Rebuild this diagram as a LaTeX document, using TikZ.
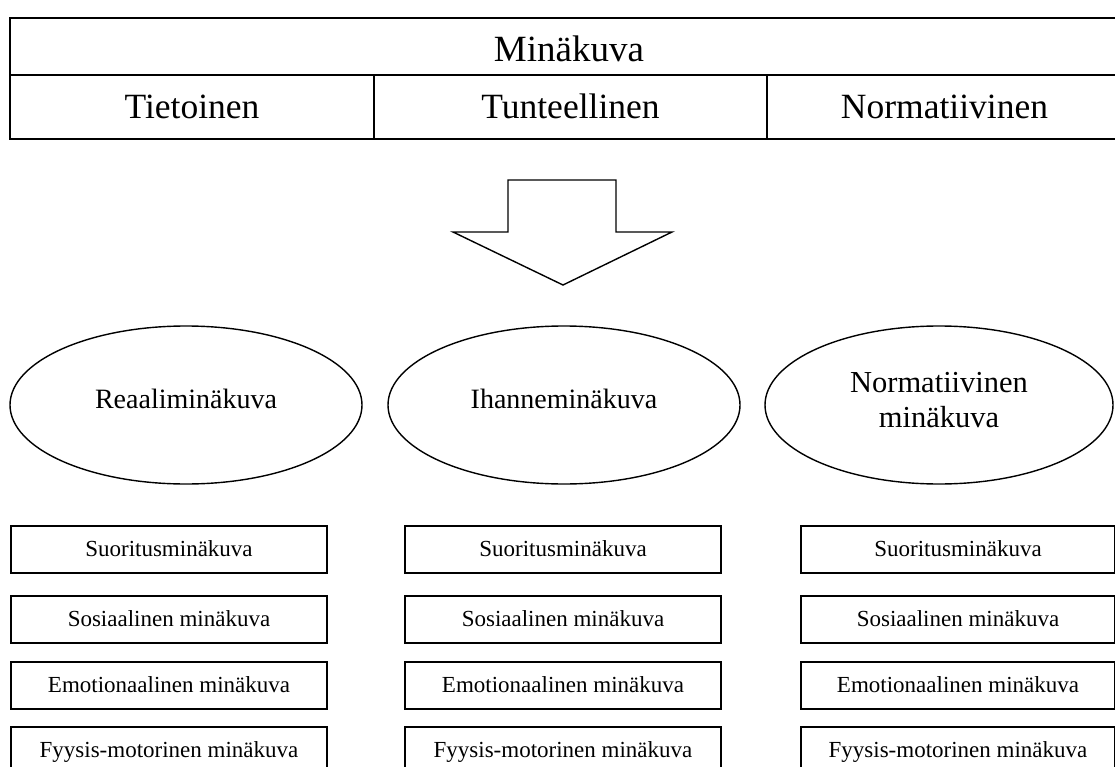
\documentclass[tikz,border=0pt]{standalone}
\usepackage{fontspec}
\setmainfont{Liberation Serif}
\usetikzlibrary{shapes.geometric}
\begin{document}
\begin{tikzpicture}[x=1pt,y=-1pt,
  cell/.style={draw, line width=1.6pt, inner sep=0pt, anchor=center,
    text height=23.4pt, text depth=0pt,
    font=\fontsize{35.5}{40}\selectfont},
  oval/.style={draw, ellipse, line width=1.4pt, inner sep=0pt,
    minimum width=352pt, minimum height=158pt},
  ovaltext/.style={inner sep=0pt, align=center,
    font=\fontsize{28}{34}\selectfont},
  item/.style={draw, line width=1.3pt, inner sep=0pt,
    minimum width=316pt, minimum height=47pt,
    text height=14.5pt, text depth=0pt,
    font=\fontsize{23}{26}\selectfont},
  bigarrow/.style={draw, line width=1.4pt, line join=miter}
]
\useasboundingbox (0,0) rectangle (1115,767);
\clip (0,0) rectangle (1115,767);
\fill[white] (0,0) rectangle (1115,767);

% table
\node[cell, minimum width=1118pt, minimum height=57pt, text height=31pt,
  font=\fontsize{37}{40}\selectfont] (title) at (569,46.5) {Minäkuva};
\node[cell, minimum width=364pt, minimum height=64pt] (tie) at (192,107) {Tietoinen};
\node[cell, minimum width=393pt, minimum height=64pt] (tun) at (570.5,107) {Tunteellinen};
\node[cell, minimum width=355pt, minimum height=64pt] (nor) at (944.5,107) {Normatiivinen};

% arrow
\draw[bigarrow] (508,180) -- (616,180) -- (616,232) -- (672,232) -- (563,285)
  -- (453,232) -- (508,232) -- cycle;

% ellipses
\node[oval] (real) at (186,405) {};
\node[oval] (ihan) at (564,405) {};
\node[oval, minimum width=348pt] (norm) at (939,405) {};
\node[ovaltext] (realt) at (186,399) {Reaaliminäkuva};
\node[ovaltext] (ihant) at (564,399) {Ihanneminäkuva};
\node[ovaltext, font=\fontsize{30.5}{35}\selectfont] (normt) at (939,400) {Normatiivinen\\minäkuva};

% boxes
\foreach \c/\x/\w in {a/169/316, b/563/316, c/958/314}{
  \node[item, minimum width=\w pt] (s\c) at (\x,549.5) {Suoritusminäkuva};
  \node[item, minimum width=\w pt] (o\c) at (\x,619.5) {Sosiaalinen minäkuva};
  \node[item, minimum width=\w pt] (e\c) at (\x,685.5) {Emotionaalinen minäkuva};
  \node[item, minimum width=\w pt] (f\c) at (\x,750.5) {Fyysis-motorinen minäkuva};
}
\end{tikzpicture}
\end{document}
